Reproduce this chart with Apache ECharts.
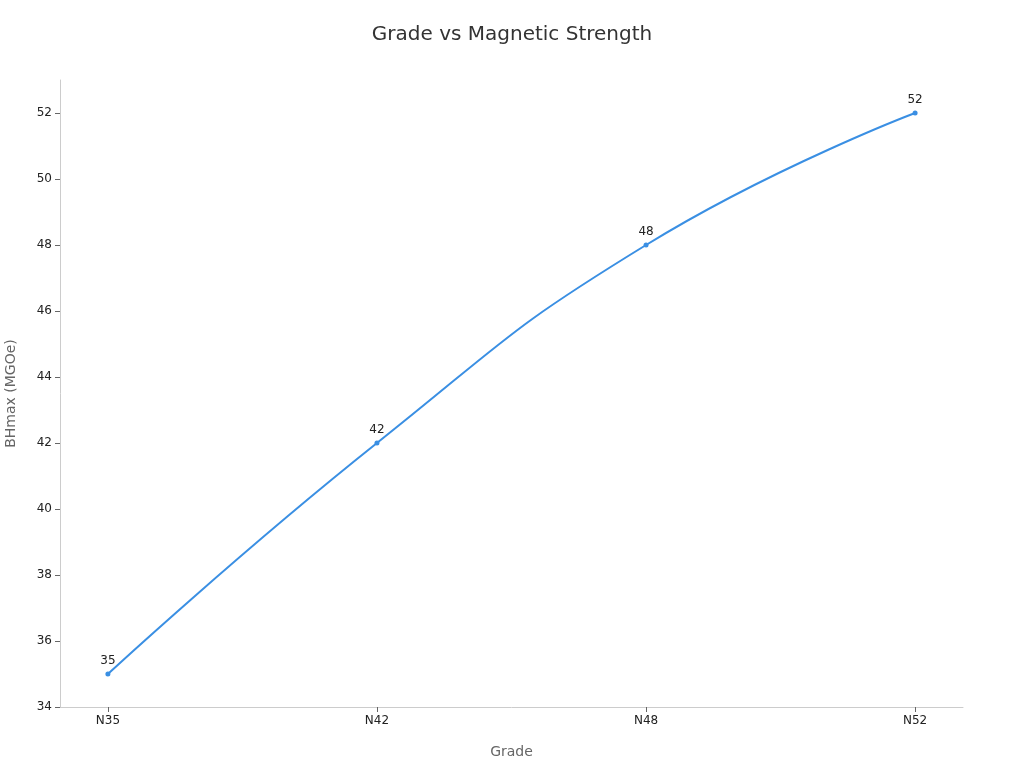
<!DOCTYPE html>
<html>
<head>
<meta charset="utf-8">
<script src="https://cdn.jsdelivr.net/npm/echarts@6/dist/echarts.min.js"></script>
<style>html,body{margin:0;padding:0;background:#fff}#c{width:1024px;height:768px}</style>
</head>
<body>
<div id="c"></div>
<script>
var categories = ['N35', 'N42', 'N48', 'N52'];
var values = [35, 42, 48, 52];
var yTicks = [34, 36, 38, 40, 42, 44, 46, 48, 50, 52];

var idx = categories.map(function (_, i) { return i; });
var data = values.map(function (v, i) { return [i, v]; });
var font = 'DejaVu Sans';
var chart = echarts.init(document.getElementById('c'));
chart.setOption({
  backgroundColor: '#fff',
  textStyle: { fontFamily: font },
  title: {
    text: 'Grade vs Magnetic Strength',
    left: 'center',
    top: 20,
    textStyle: { fontFamily: font, fontSize: 20, fontWeight: 'normal', color: '#333' }
  },
  grid: { left: 60, right: 61, top: 80, bottom: 61, containLabel: false, outerBoundsMode: 'none' },
  xAxis: {
    type: 'value',
    min: -0.178,
    max: 3.178,
    name: 'Grade',
    nameLocation: 'middle',
    nameGap: 38,
    nameTextStyle: { fontFamily: font, fontSize: 14, color: '#666' },
    splitLine: { show: false },
    axisLine: { show: true, onZero: false, lineStyle: { color: '#ccc' } },
    axisTick: { show: true, customValues: idx, length: 5, lineStyle: { color: '#666' } },
    axisLabel: {
      customValues: idx,
      formatter: function (v) { return categories[Math.round(v)]; },
      fontFamily: font, fontSize: 12, color: '#222', margin: 8
    }
  },
  yAxis: {
    type: 'value',
    min: 34,
    max: 53,
    name: 'BHmax (MGOe)',
    nameLocation: 'middle',
    nameGap: 42,
    nameTextStyle: { fontFamily: font, fontSize: 14, color: '#666' },
    splitLine: { show: false },
    axisLine: { show: true, onZero: false, lineStyle: { color: '#ccc' } },
    axisTick: { show: true, customValues: yTicks, length: 5, lineStyle: { color: '#666' } },
    axisLabel: {
      customValues: yTicks,
      fontFamily: font, fontSize: 12, color: '#222', margin: 8
    }
  },
  series: [{
    type: 'line',
    data: data,
    smooth: true,
    symbol: 'circle',
    symbolSize: 5,
    lineStyle: { width: 2, color: '#3a8fe3' },
    itemStyle: { color: '#3a8fe3' },
    label: { show: true, position: 'top', fontFamily: font, fontSize: 12, color: '#222',
      formatter: function (p) { return p.value[1]; } }
  }]
});
</script>
</body>
</html>
